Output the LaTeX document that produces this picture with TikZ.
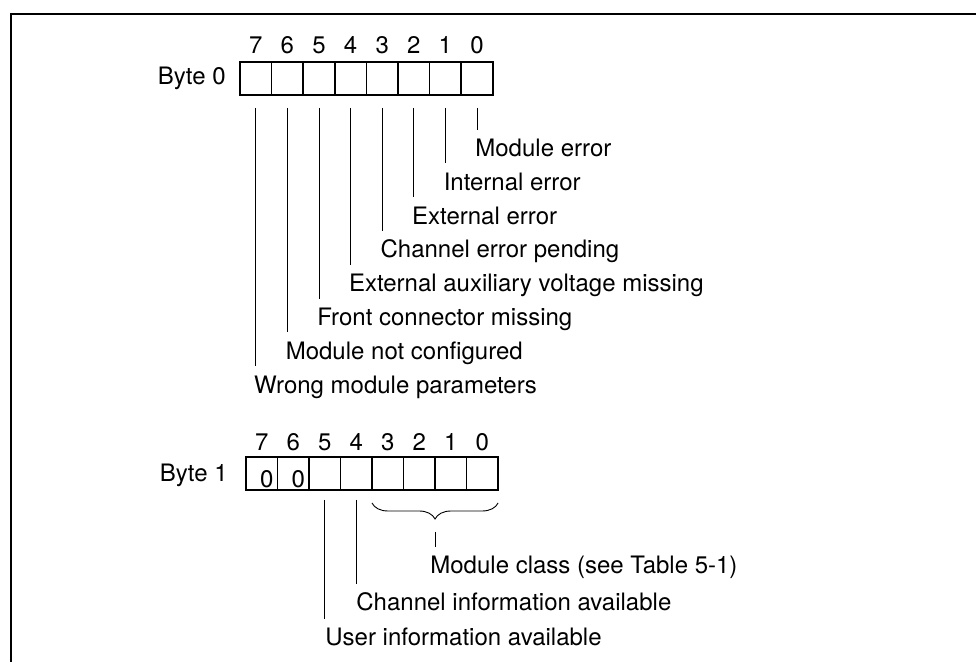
\documentclass[tikz,border=0pt]{standalone}
\usepackage{fontspec}
\setmainfont{TeX Gyre Heros}
\usetikzlibrary{
    decorations.pathreplacing,
    positioning
}

\begin{document}
\begin{tikzpicture}[x=0.5pt, y=-0.5pt, font=\fontsize{12}{14}\selectfont,
    bitcell/.style={draw, line width=0.8pt, minimum width=15.8pt, minimum height=16.5pt, inner sep=0pt, outer sep=0pt, anchor=north west},
    bitnum/.style={inner sep=0pt},
    lbl/.style={anchor=base west, inner xsep=0pt, inner ysep=4.6pt, text height=8.6pt, text depth=2.5pt},
    lead/.style={line width=0.45pt}]
    \useasboundingbox (0,0) rectangle (976,662);
    \draw[line width=1pt] (11,662) -- (11,14) -- (976,14);

    % byte 0
    \node[anchor=east, inner sep=0pt] (byte0) at (226,78) {Byte 0};
    \foreach \b in {7,...,0} {
        \node[bitcell] (c0\b) at ({240+31.6*(7-\b)},62) {};
        \node[bitnum] (n0\b) at ([yshift=8.5pt]c0\b.north) {\b};
    }
    \foreach \b/\txt in {0/Module error, 1/Internal error, 2/External error,
        3/Channel error pending, 4/External auxiliary voltage missing,
        5/Front connector missing, 6/Module not configured, 7/Wrong module parameters} {
        \pgfmathsetmacro{\lx}{240+31.6*(7-\b)+15.8-2}
        \pgfmathsetmacro{\ly}{156.5+33.8*\b}
        \node[lbl] (l0\b) at (\lx,\ly) {\txt};
        \draw[lead] ([yshift=-6.5pt]c0\b.south) -- (c0\b.south |- l0\b.north);
    }

    % byte 1
    \node[anchor=east, inner sep=0pt] (byte1) at (228,475) {Byte 1};
    \foreach \b in {7,...,0} {
        \node[bitcell] (c1\b) at ({246+31.5*(7-\b)},457) {};
        \node[bitnum] (n1\b) at ([yshift=7.5pt]c1\b.north) {\b};
    }
    \node[bitnum] (z7) at ([xshift=2.5pt, yshift=-3pt]c17.center) {0};
    \node[bitnum] (z6) at ([xshift=2.5pt, yshift=-3pt]c16.center) {0};

    \node[lbl] (l14) at (356,610.5) {Channel information available};
    \node[lbl] (l15) at (325,645.5) {User information available};
    \draw[lead] ([yshift=-5pt]c14.south) -- (c14.south |- l14.north);
    \draw[lead] ([yshift=-5pt]c15.south) -- (c15.south |- l15.north);

    \draw[lead, decorate, decoration={brace, amplitude=8pt}]
        ([yshift=-6.5pt]c10.south east) -- ([yshift=-6.5pt]c13.south west);
    \path (c13.south west) -- (c10.south east) coordinate[pos=0.5] (brmid);
    \node[lbl] (lcls) at (430,573.5) {Module class (see Table 5-1)};
    \draw[lead] ([yshift=-21pt]brmid) -- (brmid |- lcls.north);
\end{tikzpicture}
\end{document}
